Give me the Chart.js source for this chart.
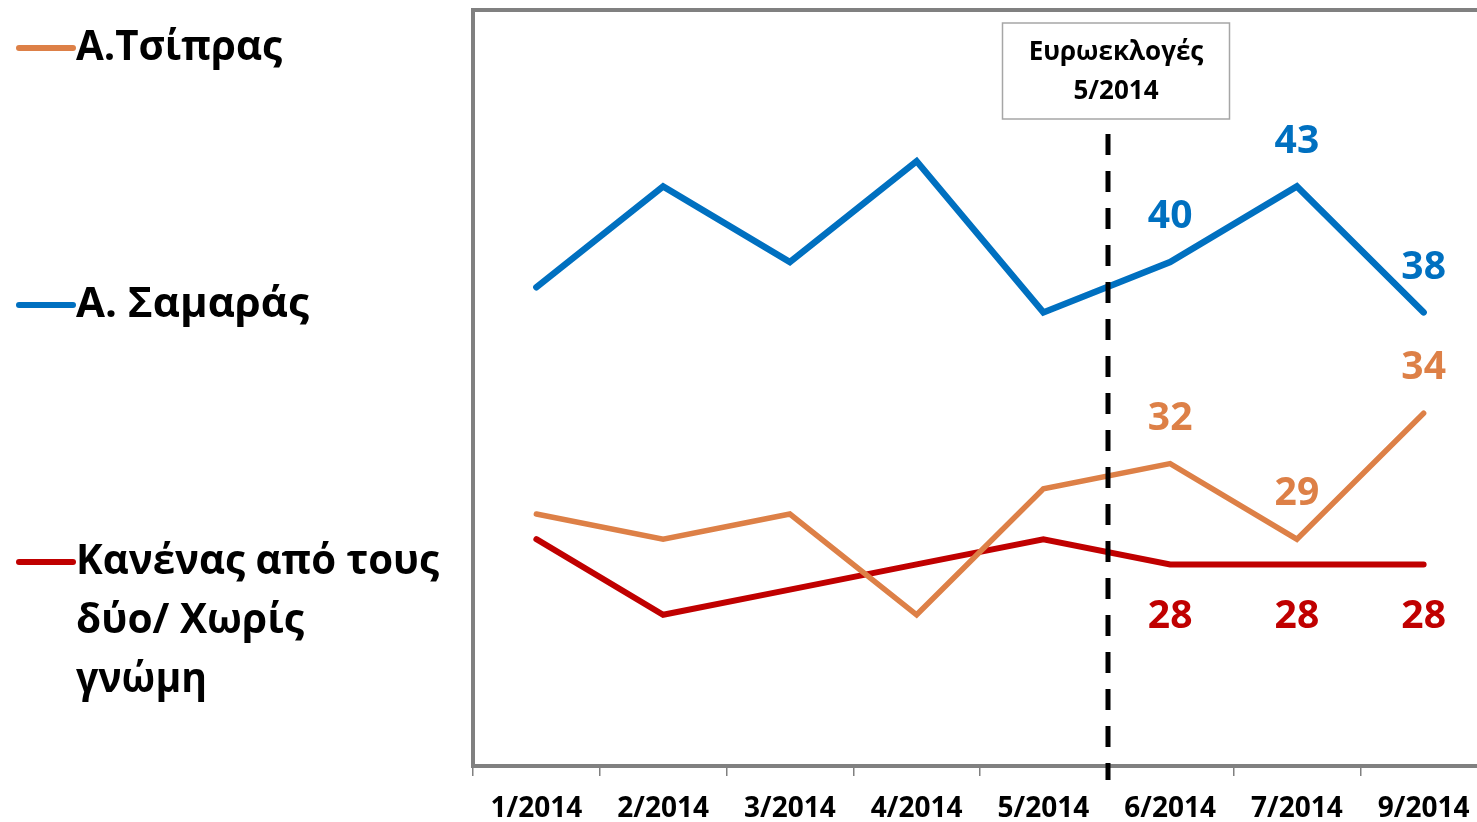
<!DOCTYPE html>
<html>
<head>
<meta charset="utf-8">
<script src="https://cdn.jsdelivr.net/npm/chart.js@4/dist/chart.umd.min.js"></script>
<style>
  html, body { margin: 0; padding: 0; background: #ffffff; overflow: hidden; }
  #wrap { position: relative; width: 1487px; height: 822px; }
</style>
</head>
<body>
<div id="wrap"><canvas id="c"></canvas></div>
<script>
// ---- data ----
const categories = ["1/2014", "2/2014", "3/2014", "4/2014", "5/2014", "6/2014", "7/2014", "9/2014"];
const tsiprasValues = [30, 29, 30, 26, 31, 32, 29, 34];
const samarasValues = [39, 43, 40, 44, 38, 40, 43, 38];
const kanenasValues = [29, 26, 27, 28, 29, 28, 28, 28];
const seriesNames = ["Α.Τσίπρας", "Α. Σαμαράς", "Κανένας από τους δύο/ Χωρίς γνώμη"];
const legendLines = [["Α.Τσίπρας"], ["Α. Σαμαράς"], ["Κανένας από τους", "δύο/ Χωρίς", "γνώμη"]];
const labeledIndices = [5, 6, 7];
const annotationLines = ["Ευρωεκλογές", "5/2014"];
const yMin = 20, yMax = 50;

// ---- styles ----
const ORANGE = "#DD8047", BLUE = "#0070C0", RED = "#C00000", GRAY = "#808080";
const FONT = "'Open Sans', 'Noto Sans', sans-serif";

const seriesStyle = [
  { color: ORANGE, labelOffset: -45, width: 5.5 },
  { color: BLUE, labelOffset: -45, width: 6.5 },
  { color: RED, labelOffset: 52, width: 6 }
];

const framePlugin = {
  id: 'frame',
  beforeDatasetsDraw(chart) {
    const { ctx, chartArea: a } = chart;
    ctx.save();
    ctx.strokeStyle = GRAY;
    ctx.lineWidth = 4;
    ctx.lineJoin = 'miter';
    ctx.beginPath();
    ctx.moveTo(a.left, a.bottom);
    ctx.lineTo(a.left, a.top);
    ctx.lineTo(a.right + 5, a.top);
    ctx.stroke();
    ctx.beginPath();
    ctx.lineWidth = 4;
    ctx.moveTo(a.left - 2, a.bottom);
    ctx.lineTo(a.right + 5, a.bottom);
    ctx.stroke();
    ctx.restore();
  },
  afterDatasetsDraw(chart) {
    const { ctx, chartArea: a, scales } = chart;
    const xs = scales.x;
    // dashed vertical line between 5/2014 and 6/2014
    const dx = Math.round(xs.getPixelForValue(4.5)) + 1;
    ctx.save();
    ctx.strokeStyle = '#000000';
    ctx.lineWidth = 5;
    ctx.setLineDash([21, 16]);
    ctx.beginPath();
    ctx.moveTo(dx, 134);
    ctx.lineTo(dx, 780);
    ctx.stroke();
    ctx.setLineDash([]);
    // annotation box
    const bw = 227, bh = 96;
    const bx = dx + 8 - bw / 2, by = 23;
    ctx.fillStyle = '#ffffff';
    ctx.fillRect(bx, by, bw, bh);
    ctx.strokeStyle = '#A6A6A6';
    ctx.lineWidth = 1.5;
    ctx.strokeRect(bx, by, bw, bh);
    ctx.fillStyle = '#000000';
    ctx.font = "bold 26px " + FONT;
    ctx.textAlign = 'center';
    ctx.textBaseline = 'middle';
    ctx.fillText(annotationLines[0], bx + bw / 2, 53, 180);
    ctx.fillText(annotationLines[1], bx + bw / 2, 92);

    // data labels
    ctx.font = "bold 39px " + FONT;
    chart.data.datasets.forEach((ds, di) => {
      const meta = chart.getDatasetMeta(di);
      ctx.fillStyle = seriesStyle[di].color;
      labeledIndices.forEach(i => {
        const p = meta.data[i];
        ctx.fillText(String(ds.data[i]), p.x, p.y + seriesStyle[di].labelOffset);
      });
    });

    // legend
    const legendY = [48, 305, 562];
    const legendWidths = [[206], [233], [363, 228, 131]];
    ctx.textAlign = 'left';
    ctx.font = "bold 42px " + FONT;
    legendLines.forEach((lines, li) => {
      ctx.strokeStyle = seriesStyle[li].color;
      ctx.lineWidth = 6;
      ctx.lineCap = 'round';
      ctx.beginPath();
      ctx.moveTo(19, legendY[li]);
      ctx.lineTo(73, legendY[li]);
      ctx.stroke();
      ctx.fillStyle = '#000000';
      lines.forEach((t, k) => {
        const w = Math.min(ctx.measureText(t).width, legendWidths[li][k]);
        ctx.fillText(t, 76, legendY[li] + k * 59, w);
      });
    });
    ctx.restore();
  }
};

const datasets = [tsiprasValues, samarasValues, kanenasValues].map((vals, i) => ({
  label: seriesNames[i],
  data: vals,
  borderColor: seriesStyle[i].color,
  backgroundColor: seriesStyle[i].color,
  borderWidth: seriesStyle[i].width,
  borderCapStyle: 'round',
  borderJoinStyle: 'miter',
  pointRadius: 0,
  pointHoverRadius: 0,
  tension: 0,
  fill: false
}));

new Chart(document.getElementById('c'), {
  type: 'line',
  data: { labels: categories, datasets: datasets },
  options: {
    responsive: true,
    maintainAspectRatio: false,
    animation: false,
    events: [],
    layout: { padding: { left: 473, top: 10, right: 0, bottom: 0 } },
    plugins: { legend: { display: false }, tooltip: { enabled: false } },
    scales: {
      x: {
        offset: true,
        afterFit(scale) { scale.height = 56; },
        border: { display: false },
        grid: {
          offset: true,
          drawOnChartArea: false,
          drawTicks: true,
          tickLength: 10,
          color: GRAY,
          lineWidth: 1.5
        },
        ticks: {
          color: '#000000',
          font: { family: FONT, size: 28, weight: 'bold' },
          padding: 16,
          maxRotation: 0,
          autoSkip: false
        }
      },
      y: {
        display: false,
        min: yMin,
        max: yMax
      }
    }
  },
  plugins: [framePlugin]
});
</script>
</body>
</html>
